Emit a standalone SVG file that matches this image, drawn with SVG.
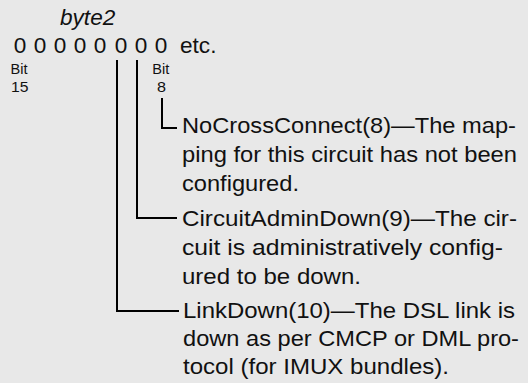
<svg xmlns="http://www.w3.org/2000/svg" width="528" height="383" viewBox="0 0 528 383">
  <style>
    .t { font-family: "Liberation Sans", Arial, Helvetica, sans-serif; fill: #111; }
    .big { font-size: 22.6px; }
    .small { font-size: 15.5px; }
    .it { font-style: italic; }
    .lead { fill: none; stroke: #000; stroke-width: 2; }
  </style>
  <rect width="528" height="383" fill="#e8e8e8"/>

  <!-- byte header and bit row -->
  <g id="byte-header">
    <text class="t big it" x="60" y="25">byte2</text>
    <text class="t big" x="20 40 60 80 100 121 141 161" y="53.3" text-anchor="middle">00000000</text>
    <text class="t big" x="180" y="53.3">etc.</text>
  </g>

  <!-- condensed two-line bit labels -->
  <g id="bit15-label">
    <text class="t small" x="10.6" y="73.6" textLength="17" lengthAdjust="spacingAndGlyphs">Bit</text>
    <text class="t small" x="11" y="91.8" textLength="17.5" lengthAdjust="spacingAndGlyphs">15</text>
  </g>

  <g id="bit8-label">
    <text class="t small" x="152.3" y="73.6" textLength="17" lengthAdjust="spacingAndGlyphs">Bit</text>
    <text class="t small" x="157" y="91.8" textLength="9" lengthAdjust="spacingAndGlyphs">8</text>
  </g>

  <!-- leader lines from bit positions to descriptions -->
  <g id="connectors">
    <path class="lead" d="M162 98 V128 H177"/>
    <path class="lead" d="M137 60 V218 H177"/>
    <path class="lead" d="M117 60 V311 H179"/>
  </g>

  <g id="bit8-desc">
    <text class="t big" x="182" y="133" textLength="334" lengthAdjust="spacingAndGlyphs">NoCrossConnect(8)—The map-</text>
    <text class="t big" x="182" y="162" textLength="335" lengthAdjust="spacingAndGlyphs">ping for this circuit has not been</text>
    <text class="t big" x="182" y="191" textLength="117" lengthAdjust="spacingAndGlyphs">configured.</text>
  </g>

  <g id="bit9-desc">
    <text class="t big" x="182" y="226" textLength="335" lengthAdjust="spacingAndGlyphs">CircuitAdminDown(9)—The cir-</text>
    <text class="t big" x="182" y="255" textLength="321" lengthAdjust="spacingAndGlyphs">cuit is administratively config-</text>
    <text class="t big" x="182" y="283.5" textLength="179" lengthAdjust="spacingAndGlyphs">ured to be down.</text>
  </g>

  <g id="bit10-desc">
    <text class="t big" x="183" y="318" textLength="332" lengthAdjust="spacingAndGlyphs">LinkDown(10)—The DSL link is</text>
    <text class="t big" x="183" y="346" textLength="336" lengthAdjust="spacingAndGlyphs">down as per CMCP or DML pro-</text>
    <text class="t big" x="183" y="374" textLength="266" lengthAdjust="spacingAndGlyphs">tocol (for IMUX bundles).</text>
  </g>
</svg>
